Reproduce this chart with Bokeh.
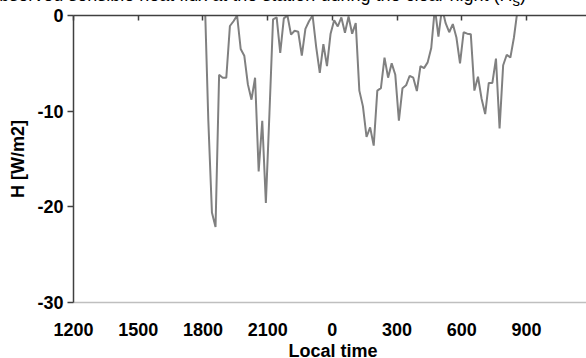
from bokeh.plotting import figure
from bokeh.models import Range1d, LinearAxis, FixedTicker, Div
from bokeh.layouts import column
from bokeh.embed import file_html
from bokeh.resources import INLINE
import numpy as np

# ---- data ----
title_text = "Observed sensible heat flux at the station during the clear night (H"
title_sub = "s"
title_end = ")"
x_label = "Local time"
y_label = "H [W/m2]"

tick_hours = [12, 15, 18, 21, 24, 27, 30, 33]
tick_labels = ["1200", "1500", "1800", "2100", "0", "300", "600", "900"]
y_ticks = [0, -10, -20, -30]
y_tick_labels = ["0", "-10", "-20", "-30"]

start_hour = 18 + 5 / 60.0   # first 10-minute sample (18:05)
step_hour = 10 / 60.0        # 10-minute sampling

H = [2.0, -11.0, -20.6, -22.1, -6.2, -6.5, -6.5, -1.1, -0.6, 0.0,
     -3.5, -4.2, -7.2, -8.8, -6.5, -16.3, -11.0, -19.6, -10.2, -0.4,
     -0.2, -3.9, -0.3, 0.0, -2.0, -1.6, -1.7, -4.2, -1.4, -0.6,
     0.0, -3.3, -6.0, -3.0, -5.3, -1.9, -0.5, -1.15, -0.2, -1.8,
     -0.1, -1.9, -0.8, -7.85, -9.5, -12.7, -11.7, -13.6, -7.85, -7.6,
     -4.4, -6.5, -5.0, -6.2, -11.0, -7.6, -7.3, -6.3, -6.5, -7.9,
     -5.3, -5.5, -4.9, -3.4, 0.8, -2.2, 0.8, -0.8, -1.75, -0.9,
     -2.3, -5.0, -1.75, -1.9, -1.95, -7.85, -6.4, -8.7, -10.3, -7.05,
     -7.05, -4.5, -11.8, -5.2, -4.1, -4.4, -2.3, 0.6]

times = start_hour + step_hour * np.arange(len(H))

# ---- figure ----
FONT = "Liberation Sans"
p = figure(width=586, height=358, output_backend="svg", toolbar_location=None,
           x_range=Range1d(12, 35.78), y_range=Range1d(-30, 0),
           x_axis_location=None, y_axis_location=None,
           min_border_left=73, min_border_right=0, min_border_top=15,
           min_border_bottom=56)
p.outline_line_color = None
p.xgrid.visible = False
p.ygrid.visible = False
p.background_fill_color = "white"
p.border_fill_color = "white"

p.line(times, H, line_color="#808080", line_width=2)

# left axis
yax = LinearAxis(ticker=FixedTicker(ticks=y_ticks))
yax.major_label_overrides = {v: s for v, s in zip(y_ticks, y_tick_labels)}
yax.axis_line_color = "#404040"
yax.axis_line_width = 1.5
yax.major_tick_line_color = "#404040"
yax.major_tick_line_width = 1.5
yax.major_tick_out = 6
yax.major_tick_in = 0
yax.minor_tick_line_color = None
yax.major_label_standoff = 4
yax.major_label_text_font = FONT
yax.major_label_text_font_style = "bold"
yax.major_label_text_font_size = "18px"
yax.major_label_text_color = "black"
yax.axis_label = y_label
yax.axis_label_text_font = FONT
yax.axis_label_text_font_style = "bold"
yax.axis_label_text_font_size = "18px"
yax.axis_label_text_color = "black"
yax.axis_label_standoff = 6
p.add_layout(yax, "left")

# bottom axis (labels only, light frame line)
xax = LinearAxis(ticker=FixedTicker(ticks=tick_hours))
xax.major_label_overrides = {h: s for h, s in zip(tick_hours, tick_labels)}
xax.axis_line_color = "#bfbfbf"
xax.axis_line_width = 1.5
xax.major_tick_line_color = None
xax.major_tick_out = 0
xax.major_tick_in = 0
xax.minor_tick_line_color = None
xax.major_label_standoff = 20
xax.major_label_text_font = FONT
xax.major_label_text_font_style = "bold"
xax.major_label_text_font_size = "18px"
xax.major_label_text_color = "black"
p.add_layout(xax, "below")

# top axis at y = 0 with inward ticks
tax = LinearAxis(ticker=FixedTicker(ticks=tick_hours))
tax.major_label_overrides = {h: "" for h in tick_hours}
tax.major_label_text_font_size = "1px"
tax.major_label_standoff = 0
tax.axis_line_color = "#404040"
tax.axis_line_width = 1.5
tax.major_tick_line_color = "#404040"
tax.major_tick_line_width = 1.5
tax.major_tick_in = 5
tax.major_tick_out = 0
tax.minor_tick_line_color = None
p.add_layout(tax, "above")

# chart title (above the window, only its lower edge shows) and x-axis title,
# laid over the figure from a Div placed right below it
common = (f"position:absolute; white-space:nowrap; font-family:'{FONT}'; "
          "font-size:18px; line-height:20px; color:black; margin:0; padding:0;")
overlay_html = (
    f'<span style="{common} left:-30px; top:-373px; width:556px; text-align:right;">'
    f'{title_text}<sub>{title_sub}</sub>{title_end}</span>'
    f'<span style="{common} left:183px; top:-17px; width:300px; text-align:center; '
    f'font-weight:bold;">{x_label}</span>'
)
overlay = Div(text=overlay_html, width=586, height=20,
              styles={"position": "relative", "z-index": "2",
                      "overflow": "visible", "margin": "0", "padding": "0"})

layout = column(p, overlay, spacing=0)

open("out.html", "w").write(file_html(layout, INLINE))
